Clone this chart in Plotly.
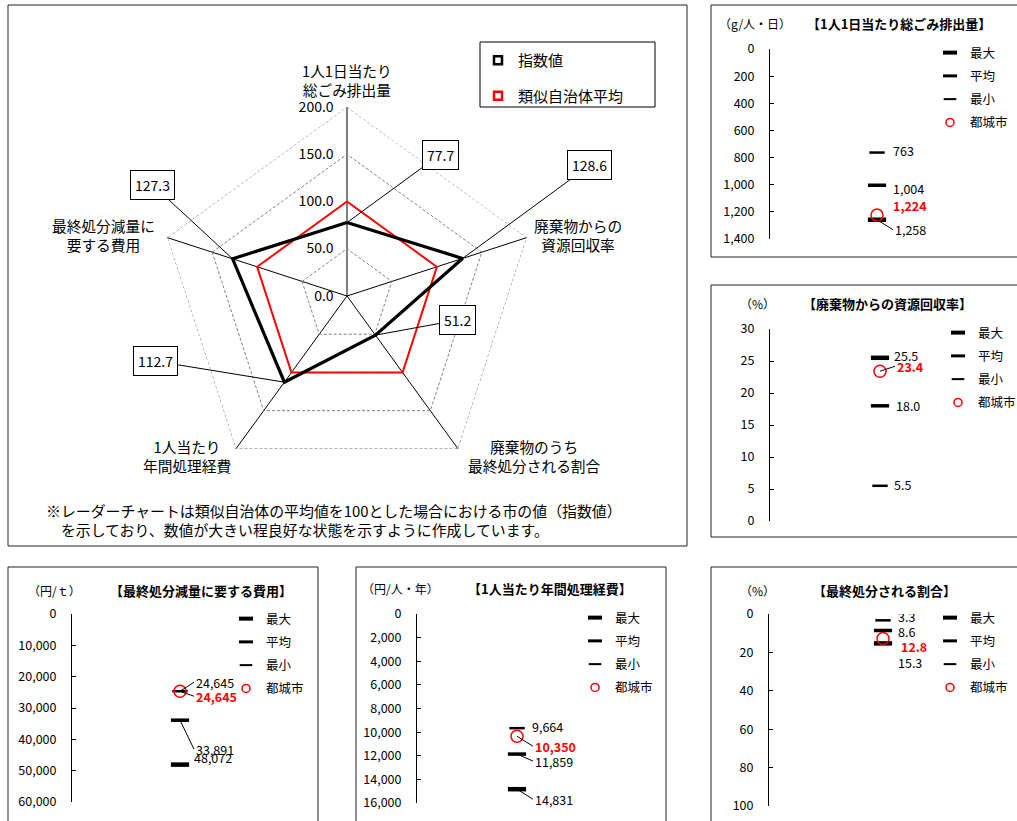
import math
import plotly.graph_objects as go

W, H = 1017, 821
FONT = "Noto Sans CJK JP"

# --- data: radar ---
radar_labels = ["1人1日当たり<br>総ごみ排出量", "廃棄物からの<br>資源回収率",
                "廃棄物のうち<br>最終処分される割合", "1人当たり<br>年間処理経費",
                "最終処分減量に<br>要する費用"]
index_values = [77.7, 128.6, 51.2, 112.7, 127.3]
similar_avg = [100.0, 100.0, 100.0, 100.0, 100.0]
radial_ticks = [0, 50, 100, 150, 200]

# --- data: small panels (order: 最大, 平均, 最小, 都城市) ---
series_names = ["最大", "平均", "最小", "都城市"]
gomi_per_day = [1258, 1004, 763, 1224]
recycle_rate = [25.5, 18.0, 5.5, 23.4]
landfill_cost = [48072, 33891, 24645, 24645]
cost_per_person = [14831, 11859, 9664, 10350]
landfill_rate = [15.3, 8.6, 3.3, 12.8]

panel_titles = ["【1人1日当たり総ごみ排出量】", "【廃棄物からの資源回収率】",
                "【最終処分減量に要する費用】", "【1人当たり年間処理経費】",
                "【最終処分される割合】"]
panel_units = ["（g/人・日）", "（%）", "（円/ｔ）", "（円/人・年）", "（%）"]

footnote = ("※レーダーチャートは類似自治体の平均値を100とした場合における市の値（指数値）<br>"
            "　を示しており、数値が大きい程良好な状態を示すように作成しています。")


def px_x(p):
    return p / W


def px_y(p):
    return 1 - p / H


fig = go.Figure()

# --- radar chart ---
cx, cy, R = 347, 296, 189
loop = list(range(5)) + [0]
loop_theta = [radar_labels[i] for i in loop]

# outer dashed frame at the top of the scale
fig.add_trace(go.Scatterpolar(r=[radial_ticks[-1]] * 6, theta=loop_theta, mode="lines",
                              line=dict(color="#808080", width=1, dash="3px,2px"),
                              showlegend=False, hoverinfo="skip"))
fig.add_trace(go.Scatterpolar(r=similar_avg + similar_avg[:1], theta=loop_theta,
                              mode="lines", line=dict(color="#ff0000", width=2), showlegend=False))
fig.add_trace(go.Scatterpolar(r=index_values + index_values[:1], theta=loop_theta,
                              mode="lines", line=dict(color="black", width=3.2), showlegend=False))

# legend proxies for radar
fig.add_trace(go.Scatter(x=[None], y=[None], mode="markers", name="指数値", legendgroup="a",
                         marker=dict(symbol="square", size=8, color="white", line=dict(color="black", width=2.5)),
                         xaxis="x7", yaxis="y7"))
fig.add_trace(go.Scatter(x=[None], y=[None], mode="markers", name="類似自治体平均", legendgroup="b",
                         marker=dict(symbol="square", size=8, color="white", line=dict(color="#ff0000", width=2.5)),
                         xaxis="x7", yaxis="y7"))

# value callouts on radar (box offsets in px from the point)
callout_offsets = [(93, -68), (127, -93), (82, -15), (-129, -21), (-80, -74)]
annotations = []
for i, v in enumerate(index_values):
    ang = math.radians(72 * i)
    dx, dy = callout_offsets[i]
    annotations.append(dict(x=v * math.sin(ang), y=v * math.cos(ang), xref="x7", yref="y7",
                            text=f"{v:.1f}", showarrow=True, ax=dx, ay=dy, arrowhead=0,
                            arrowwidth=1, arrowcolor="black", bordercolor="black", borderwidth=1,
                            borderpad=4, bgcolor="white", font=dict(size=14, color="black")))

# category labels around radar
cat_pos = [(347, 80), (578, 235), (534, 456), (187, 456), (103, 235)]
for lab, (x, y) in zip(radar_labels, cat_pos):
    annotations.append(dict(x=px_x(x), y=px_y(y), xref="paper", yref="paper", text=lab,
                            showarrow=False, xanchor="center", yanchor="middle",
                            font=dict(size=14.7, color="black")))

annotations.append(dict(x=px_x(44), y=px_y(520), xref="paper", yref="paper", text=footnote,
                        showarrow=False, xanchor="left", yanchor="middle", align="left",
                        font=dict(size=14.9, color="black")))

# --- small panels ---
panel_data = [gomi_per_day, recycle_rate, landfill_cost, cost_per_person, landfill_rate]
# axis x, top y, bottom y, right x, range, dtick, format
panel_geo = [
    (770, 49, 239, 984, [1400, 0], 200, ",d"),
    (770, 329, 521, 990, [0, 30], 5, "d"),
    (72, 614, 802, 288, [60000, 0], 10000, ",d"),
    (417, 614, 803, 617, [16000, 0], 2000, ",d"),
    (769, 614, 806, 997, [100, 0], 20, "d"),
]
head_pos = [((755, 24), (899, 24)), ((757, 303), (887, 303)), ((54, 590), (201, 590)),
            ((400, 588), (550, 588)), ((757, 590), (884, 590))]
legend_pos = [(930, 38), (938, 318), (226, 604), (575, 603), (930, 603)]
# label offsets (dx, dy px from mark centre, leader line?)
label_offsets = [
    [(16, 10, True), (16, 6, False), (16, 0, False), (16, -7, False)],
    [(14, 0, False), (16, 2, False), (14, 1, False), (15, -5, True)],
    [(14, -5, False), (14, 29, True), (14, -9, True), (14, 5, True)],
    [(16, 10, True), (16, 7, True), (15, 1, False), (16, 10, True)],
    [(15, 21, False), (15, 3, False), (15, -1, False), (18, 10, False)],
]
mark_styles = [
    dict(symbol="line-ew", size=13, line=dict(color="black", width=4.5)),
    dict(symbol="line-ew", size=13, line=dict(color="black", width=3.5)),
    dict(symbol="line-ew", size=11, line=dict(color="black", width=2.5)),
    dict(symbol="circle-open", size=12, color="#ff0000", line=dict(color="#ff0000", width=1.5)),
]
legend_styles = [
    dict(symbol="line-ew", size=10, line=dict(color="black", width=4)),
    dict(symbol="line-ew", size=10, line=dict(color="black", width=3)),
    dict(symbol="line-ew", size=9, line=dict(color="black", width=2)),
    dict(symbol="circle-open", size=8, color="#ff0000", line=dict(color="#ff0000", width=1.5)),
]

layout_axes = {}
for k, vals in enumerate(panel_data):
    n = k + 2
    ax_x, top, bot, right, rng, dt, fmt = panel_geo[k]
    x_per_px = 1.0 / (right - ax_x)
    y_per_px = (rng[0] - rng[1]) / (bot - top)
    layout_axes[f"xaxis{n}"] = dict(domain=[px_x(ax_x), px_x(right)], range=[0, 1], visible=False,
                                    anchor=f"y{n}", fixedrange=True)
    layout_axes[f"yaxis{n}"] = dict(domain=[px_y(bot), px_y(top)], range=rng, dtick=dt, tick0=0,
                                    tickformat=fmt, anchor=f"x{n}", showline=True, linecolor="black",
                                    linewidth=1, ticks="inside", ticklen=4, tickcolor="black",
                                    showgrid=False, zeroline=False, ticklabelstandoff=12,
                                    automargin=False,
                                    tickfont=dict(size=12.5, color="black"), fixedrange=True)
    lx, ly = legend_pos[k]
    layout_axes["legend" + str(n)] = dict(x=px_x(lx), y=px_y(ly), xanchor="left", yanchor="top",
                                          bgcolor="rgba(0,0,0,0)", borderwidth=0, tracegroupgap=4,
                                          font=dict(size=12.5, color="black"))
    for j, v in enumerate(vals):
        fig.add_trace(go.Scatter(x=[0.5], y=[v], mode="markers", name=series_names[j],
                                 marker=mark_styles[j], xaxis=f"x{n}", yaxis=f"y{n}",
                                 showlegend=False))
        fig.add_trace(go.Scatter(x=[None], y=[None], mode="markers", name=series_names[j],
                                 marker=legend_styles[j], xaxis=f"x{n}", yaxis=f"y{n}",
                                 legend=f"legend{n}", legendgroup=f"p{n}s{j}"))
        txt = f"{v:,}" if isinstance(v, int) else f"{v:.1f}"
        if j == 3:
            txt = f"<b>{txt}</b>"
        color = "#ff0000" if j == 3 else "black"
        dx, dy, lead = label_offsets[k][j]
        if lead:
            annotations.append(dict(x=0.5, y=v, xref=f"x{n}", yref=f"y{n}", text=txt,
                                    xanchor="left", yanchor="middle", showarrow=True, ax=dx, ay=dy,
                                    arrowhead=0, arrowwidth=1, arrowcolor="black",
                                    font=dict(size=12.5, color=color)))
        else:
            fig.add_trace(go.Scatter(x=[0.5 + dx * x_per_px], y=[v + dy * y_per_px], mode="text",
                                     text=[txt], textposition="middle right",
                                     textfont=dict(size=12.5, color=color, family=FONT),
                                     xaxis=f"x{n}", yaxis=f"y{n}", showlegend=False, hoverinfo="skip"))
    (ux, uy), (tx, ty) = head_pos[k]
    annotations.append(dict(x=px_x(ux), y=px_y(uy), xref="paper", yref="paper", text=panel_units[k],
                            showarrow=False, xanchor="center", yanchor="middle",
                            font=dict(size=12, color="black")))
    annotations.append(dict(x=px_x(tx), y=px_y(ty), xref="paper", yref="paper",
                            text=f"<b>{panel_titles[k]}</b>", showarrow=False,
                            xanchor="center", yanchor="middle", font=dict(size=13, color="black")))

# frames
boxes = [(8, 5, 687, 546), (711, 5, 1030, 257), (711, 285, 1030, 537),
         (8, 567, 318, 830), (356, 567, 666, 830), (711, 567, 1030, 830)]
shapes = [dict(type="rect", xref="paper", yref="paper", x0=px_x(a), x1=px_x(c), y0=px_y(d), y1=px_y(b),
               line=dict(color="#222222", width=1)) for a, b, c, d in boxes]
shapes.append(dict(type="rect", xref="paper", yref="paper", x0=px_x(480), x1=px_x(655),
                   y0=px_y(107), y1=px_y(42), line=dict(color="black", width=1)))

fig.update_layout(
    width=W, height=H, margin=dict(l=0, r=0, t=0, b=0, autoexpand=False),
    paper_bgcolor="white", plot_bgcolor="rgba(0,0,0,0)",
    font=dict(family=FONT, color="black"),
    polar=dict(
        domain=dict(x=[px_x(cx - R), px_x(cx + R)], y=[px_y(cy + R), px_y(cy - R)]),
        gridshape="linear", bgcolor="rgba(0,0,0,0)",
        radialaxis=dict(range=[0, 200], tickvals=radial_ticks, tickformat=".1f", angle=90,
                        tickangle=90, side="counterclockwise", showline=False, ticks="outside",
                        ticklen=8, tickcolor="rgba(0,0,0,0)",
                        gridcolor="#808080", griddash="3px,2px", gridwidth=1,
                        tickfont=dict(size=14, color="black")),
        angularaxis=dict(direction="clockwise", rotation=90, showticklabels=False, ticks="",
                         gridcolor="black", gridwidth=1, showline=False),
    ),
    xaxis7=dict(domain=[px_x(cx - R), px_x(cx + R)], range=[-200, 200], visible=False, anchor="y7"),
    yaxis7=dict(domain=[px_y(cy + R), px_y(cy - R)], range=[-200, 200], visible=False, anchor="x7"),
    legend=dict(x=px_x(478), y=px_y(44), xanchor="left", yanchor="top", bgcolor="rgba(0,0,0,0)",
                borderwidth=0, tracegroupgap=13, font=dict(size=15, color="black")),
    annotations=annotations, shapes=shapes, showlegend=True,
    **layout_axes,
)

fig.write_html("out.html", config={"displayModeBar": False},
               post_script="document.body.style.margin='0';document.body.style.overflow='hidden';")
